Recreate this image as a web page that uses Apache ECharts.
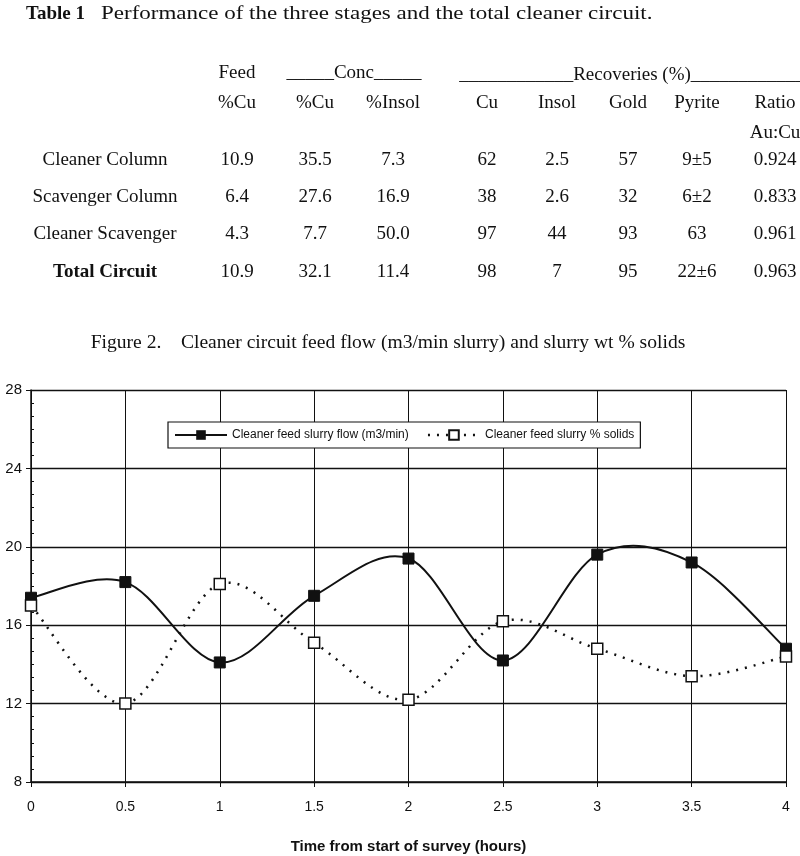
<!DOCTYPE html>
<html><head><meta charset="utf-8">
<script src="https://cdn.jsdelivr.net/npm/echarts@6/dist/echarts.min.js"></script>
<style>html,body{margin:0;padding:0;background:#fff}#c{width:800px;height:856px}</style>
</head><body><div id="c"></div>
<script>
// ---- Table 1 data ----
const tableTitleBold = 'Table 1';
const tableTitle = 'Performance of the three stages and the total cleaner circuit.';
const tableRows = ['Cleaner Column', 'Scavenger Column', 'Cleaner Scavenger', 'Total Circuit'];
const feedCu = ['10.9', '6.4', '4.3', '10.9'];
const concCu = ['35.5', '27.6', '7.7', '32.1'];
const concInsol = ['7.3', '16.9', '50.0', '11.4'];
const recCu = ['62', '38', '97', '98'];
const recInsol = ['2.5', '2.6', '44', '7'];
const recGold = ['57', '32', '93', '95'];
const recPyrite = ['9±5', '6±2', '63', '22±6'];
const ratioAuCu = ['0.924', '0.833', '0.961', '0.963'];
const colHeaders = ['%Cu', '%Cu', '%Insol', 'Cu', 'Insol', 'Gold', 'Pyrite', 'Ratio'];

// ---- Figure 2 data ----
const figureCaption = 'Figure 2.    Cleaner circuit feed flow (m3/min slurry) and slurry wt % solids';
const hours = [0, 0.5, 1, 1.5, 2, 2.5, 3, 3.5, 4];
const slurryFlow = [17.4, 18.2, 14.1, 17.5, 19.4, 14.2, 19.6, 19.2, 14.8];
const slurrySolids = [17.0, 12.0, 18.1, 15.1, 12.2, 16.2, 14.8, 13.4, 14.4];
const seriesNames = ['Cleaner feed slurry flow (m3/min)', 'Cleaner feed slurry % solids'];
const xAxisTitle = 'Time from start of survey (hours)';

const SERIF = "'Liberation Serif','Times New Roman',serif";
const SANS = "'Liberation Sans',Arial,sans-serif";
const FS = 19;

const colX = [237, 315, 393, 487, 557, 628, 697, 775];
const rowY = [160, 197, 234, 272];
const columns = [feedCu, concCu, concInsol, recCu, recInsol, recGold, recPyrite, ratioAuCu];

function txt(x, y, text, opts) {
  opts = opts || {};
  return {
    type: 'text', x: x, y: y, silent: true, scaleX: opts.scaleX || 1,
    style: {
      text: text, fill: '#111',
      font: (opts.bold ? 'bold ' : '') + (opts.size || FS) + 'px ' + (opts.family || SERIF),
      textAlign: opts.align || 'center', textVerticalAlign: 'middle'
    }
  };
}

const graphics = [];
graphics.push(txt(26, 14, tableTitleBold, { bold: true, align: 'left' }));
graphics.push(txt(101, 14, tableTitle, { size: 19, align: 'left', scaleX: 1.21 }));
graphics.push(txt(237, 73, 'Feed'));
graphics.push(txt(354, 73, '_____Conc_____'));
graphics.push(txt(632, 75, '____________Recoveries (%)____________'));
colHeaders.forEach((h, i) => graphics.push(txt(colX[i], 103, h)));
graphics.push(txt(775, 133, 'Au:Cu'));
tableRows.forEach((r, j) => {
  graphics.push(txt(105, rowY[j], r, { bold: j === 3 }));
  columns.forEach((col, i) => graphics.push(txt(colX[i], rowY[j], col[j])));
});
graphics.push(txt(388, 343, figureCaption, { size: 19, scaleX: 1.03 }));

// segments [x0,y0,x1,y1,xPrev,yPrev,xNext,yNext] for a smoothed (Catmull-Rom) curve
function curveSegments(vals) {
  const n = hours.length;
  return hours.slice(0, -1).map((h, i) => {
    const ip = Math.max(i - 1, 0), inx = Math.min(i + 2, n - 1);
    return [h, vals[i], hours[i + 1], vals[i + 1], hours[ip], vals[ip], hours[inx], vals[inx]];
  });
}
function curveRenderer(lineStyle) {
  return function (params, api) {
    const p0 = api.coord([api.value(0), api.value(1)]);
    const p1 = api.coord([api.value(2), api.value(3)]);
    const pp = api.coord([api.value(4), api.value(5)]);
    const pn = api.coord([api.value(6), api.value(7)]);
    return {
      type: 'bezierCurve',
      shape: {
        x1: p0[0], y1: p0[1], x2: p1[0], y2: p1[1],
        cpx1: p0[0] + (p1[0] - pp[0]) / 6, cpy1: p0[1] + (p1[1] - pp[1]) / 6,
        cpx2: p1[0] - (pn[0] - p0[0]) / 6, cpy2: p1[1] - (pn[1] - p0[1]) / 6
      },
      style: Object.assign({ fill: null, stroke: '#111' }, lineStyle),
      silent: true
    };
  };
}

const chart = echarts.init(document.getElementById('c'), null, { renderer: 'canvas' });
chart.setOption({
  backgroundColor: '#fff',
  animation: false,
  graphic: graphics,
  legend: {
    left: 168, top: 422,
    itemWidth: 52, itemHeight: 12, itemGap: 18,
    padding: [7, 6, 7, 6],
    borderColor: '#111', borderWidth: 1.2,
    backgroundColor: '#fff',
    textStyle: { fontFamily: SANS, fontSize: 12, color: '#111' },
    data: [
      { name: seriesNames[0], lineStyle: { opacity: 1, color: '#111', width: 2, type: 'solid' } },
      { name: seriesNames[1], lineStyle: { opacity: 1, color: '#111', width: 2.5, type: [2, 7] } }
    ]
  },
  grid: { left: 31, right: 14, top: 390, bottom: 74, containLabel: false },
  xAxis: {
    type: 'value', min: 0, max: 4, interval: 0.5,
    name: xAxisTitle, nameLocation: 'middle', nameGap: 57,
    nameTextStyle: { fontFamily: SANS, fontSize: 15, fontWeight: 'bold', color: '#111' },
    axisLine: { show: true, onZero: false, lineStyle: { color: '#111', width: 1.5 } },
    axisTick: { show: true, length: 5, lineStyle: { color: '#111' } },
    axisLabel: { fontFamily: SANS, fontSize: 14, color: '#111', margin: 18 },
    splitLine: { show: true, lineStyle: { color: '#111', width: 1 } }
  },
  yAxis: [{
    type: 'value', min: 8, max: 28, interval: 4,
    axisLine: { show: true, lineStyle: { color: '#111', width: 1.5 } },
    axisTick: { show: true, length: 5, lineStyle: { color: '#111' } },
    axisLabel: { fontFamily: SANS, fontSize: 15, color: '#111', margin: 9 },
    splitLine: { show: true, lineStyle: { color: '#111', width: 1.3 } }
  }, {
    type: 'value', min: 8, max: 28, interval: 4, position: 'left',
    axisLine: { show: false },
    axisTick: { show: false, inside: true },
    minorTick: { show: true, splitNumber: 6, length: 3, lineStyle: { color: '#111' } },
    axisLabel: { show: false },
    splitLine: { show: false }
  }],
  series: [{
    name: 'flowCurve', type: 'custom', coordinateSystem: 'cartesian2d',
    data: curveSegments(slurryFlow), encode: { x: [0, 2], y: [1, 3] },
    renderItem: curveRenderer({ lineWidth: 2 }), z: 2, clip: false
  }, {
    name: 'solidsCurve', type: 'custom', coordinateSystem: 'cartesian2d',
    data: curveSegments(slurrySolids), encode: { x: [0, 2], y: [1, 3] },
    renderItem: curveRenderer({ lineWidth: 2.5, lineDash: [2, 7] }), z: 2, clip: false
  }, {
    name: seriesNames[0], type: 'line',
    data: hours.map((h, i) => [h, slurryFlow[i]]),
    symbol: 'rect', symbolSize: 11,
    lineStyle: { color: '#111', width: 2, opacity: 0 },
    itemStyle: { color: '#111', borderColor: '#111' },
    z: 3
  }, {
    name: seriesNames[1], type: 'line',
    data: hours.map((h, i) => [h, slurrySolids[i]]),
    symbol: 'rect', symbolSize: 11,
    lineStyle: { color: '#111', width: 2.5, type: [2, 7], opacity: 0 },
    itemStyle: { color: '#fff', borderColor: '#111', borderWidth: 1.5 },
    z: 4
  }]
});
</script></body></html>
